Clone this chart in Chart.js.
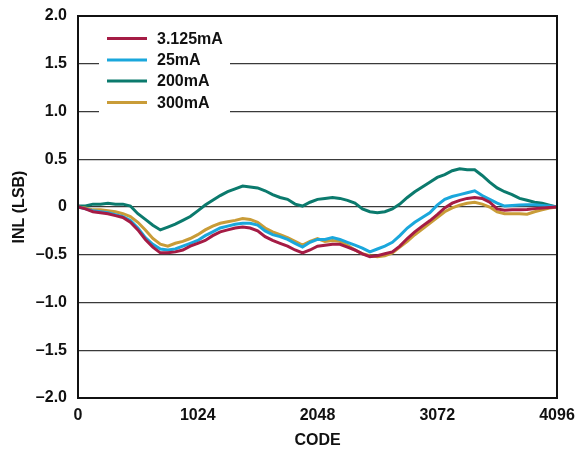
<!DOCTYPE html>
<html lang="en">
<head>
<meta charset="UTF-8">
<title>INL vs Code</title>
<script src="https://cdn.jsdelivr.net/npm/chart.js"></script>
<style>
  html, body { margin: 0; padding: 0; background: #fff; }
  #wrap { width: 576px; height: 455px; }
</style>
</head>
<body>
<div id="wrap"><canvas id="chart1" width="576" height="455"></canvas></div>
<script>
// codes sampled every 64
var codes = [0,64,128,192,256,320,384,448,512,576,640,704,768,832,896,960,1024,
  1088,1152,1216,1280,1344,1408,1472,1536,1600,1664,1728,1792,1856,1920,1984,2048,
  2112,2176,2240,2304,2368,2432,2496,2560,2624,2688,2752,2816,2880,2944,3008,3072,
  3136,3200,3264,3328,3392,3456,3520,3584,3648,3712,3776,3840,3904,3968,4032,4096];

var xTicks = [0, 1024, 2048, 3072, 4096];

var inl_3125 = [0,-0.02,-0.05,-0.06,-0.07,-0.09,-0.11,-0.16,-0.24,-0.34,-0.42,-0.48,-0.48,-0.47,-0.45,-0.41,-0.38,
  -0.35,-0.30,-0.26,-0.24,-0.22,-0.21,-0.22,-0.25,-0.31,-0.35,-0.38,-0.41,-0.45,-0.48,-0.45,-0.41,
  -0.40,-0.39,-0.39,-0.42,-0.45,-0.49,-0.52,-0.51,-0.49,-0.47,-0.41,-0.33,-0.26,-0.20,-0.145,-0.08,
  -0.01,0.04,0.07,0.09,0.10,0.09,0.05,-0.02,-0.035,-0.03,-0.03,-0.025,-0.017,-0.01,-0.005,0];

var inl_25 = [0,-0.02,-0.04,-0.05,-0.06,-0.08,-0.10,-0.14,-0.22,-0.32,-0.39,-0.44,-0.45,-0.44,-0.41,-0.38,-0.35,
  -0.30,-0.26,-0.22,-0.20,-0.18,-0.17,-0.17,-0.19,-0.25,-0.29,-0.31,-0.34,-0.38,-0.42,-0.37,-0.34,
  -0.34,-0.32,-0.34,-0.37,-0.40,-0.43,-0.47,-0.44,-0.41,-0.37,-0.30,-0.22,-0.16,-0.11,-0.06,0.02,
  0.08,0.11,0.13,0.15,0.17,0.12,0.08,0.04,0.01,0.015,0.02,0.024,0.024,0.017,0.01,0];

var inl_200 = [0.01,0.01,0.03,0.03,0.04,0.03,0.03,0.01,-0.07,-0.13,-0.19,-0.24,-0.21,-0.18,-0.14,-0.10,-0.04,
  0.02,0.07,0.12,0.16,0.19,0.22,0.21,0.20,0.17,0.13,0.10,0.08,0.03,0.01,0.05,0.08,
  0.09,0.10,0.09,0.07,0.04,-0.02,-0.05,-0.06,-0.05,-0.02,0.03,0.10,0.16,0.21,0.26,0.31,
  0.34,0.38,0.40,0.39,0.39,0.33,0.26,0.20,0.16,0.13,0.09,0.07,0.05,0.04,0.02,0];

var inl_300 = [0,-0.01,-0.03,-0.03,-0.04,-0.05,-0.07,-0.10,-0.16,-0.24,-0.33,-0.39,-0.41,-0.38,-0.36,-0.33,-0.29,
  -0.24,-0.20,-0.17,-0.155,-0.14,-0.12,-0.13,-0.16,-0.22,-0.26,-0.29,-0.32,-0.36,-0.40,-0.36,-0.33,
  -0.36,-0.35,-0.36,-0.40,-0.45,-0.49,-0.51,-0.52,-0.51,-0.48,-0.42,-0.36,-0.29,-0.23,-0.17,-0.11,
  -0.05,-0.01,0.02,0.04,0.05,0.03,0,-0.05,-0.07,-0.07,-0.07,-0.075,-0.05,-0.03,-0.01,0];

var seriesNames = ['3.125mA', '25mA', '200mA', '300mA'];
var seriesColors = ['#a51c45', '#1aa7dc', '#0b7a6d', '#c99c38'];
var seriesData = [inl_3125, inl_25, inl_200, inl_300];
var drawOrder = [0, 1, 3, 2];

var FONT = { family: "'Liberation Sans', Arial, sans-serif", size: 16, weight: 'bold' };

function toPoints(vals) {
  return codes.map(function (c, i) { return { x: c, y: vals[i] }; });
}

// white box legend + frame
var frameLegend = {
  id: 'frameLegend',
  afterDatasetsDraw: function (chart) {
    var ctx = chart.ctx, a = chart.chartArea;
    ctx.save();
    ctx.fillStyle = '#fff';
    ctx.fillRect(99, 28, 131, 86);
    var ys = [38.5, 60, 81, 102.5];
    ctx.font = 'bold 16px ' + FONT.family;
    ctx.textBaseline = 'middle';
    for (var i = 0; i < seriesNames.length; i++) {
      ctx.strokeStyle = seriesColors[i];
      ctx.lineWidth = 3;
      ctx.beginPath();
      ctx.moveTo(107, ys[i]);
      ctx.lineTo(147, ys[i]);
      ctx.stroke();
      ctx.fillStyle = '#111';
      ctx.fillText(seriesNames[i], 157, ys[i] + 1);
    }
    ctx.strokeStyle = '#111';
    ctx.lineWidth = 2;
    ctx.strokeRect(a.left, a.top, a.right - a.left, a.bottom - a.top);
    ctx.restore();
  }
};

var ctx = document.getElementById('chart1').getContext('2d');
var myChart = new Chart(ctx, {
  type: 'line',
  data: {
    datasets: seriesNames.map(function (n, i) {
      return {
        label: n,
        data: toPoints(seriesData[i]),
        borderColor: seriesColors[i],
        borderWidth: 3,
        pointRadius: 0,
        tension: 0,
        fill: false,
        order: drawOrder[i]
      };
    })
  },
  options: {
    responsive: false,
    animation: false,
    layout: { padding: { top: 16, right: 19, left: 0, bottom: 0 } },
    plugins: { legend: { display: false }, tooltip: { enabled: false } },
    scales: {
      x: {
        type: 'linear',
        min: 0, max: 4096,
        afterBuildTicks: function (s) {
          s.ticks = xTicks.map(function (v) { return { value: v }; });
        },
        grid: { display: false, drawTicks: false },
        border: { display: false },
        ticks: {
          color: '#111', font: FONT, padding: 8, maxRotation: 0,
          callback: function (v) { return String(v); }
        },
        title: { display: true, text: 'CODE', color: '#111', font: FONT, padding: { bottom: 5 } },
        afterFit: function (s) { s.height = 57; s.paddingLeft = 0; s.paddingRight = 0; }
      },
      y: {
        min: -2, max: 2,
        ticks: {
          stepSize: 0.5, color: '#111', font: FONT, padding: 11,
          callback: function (v) {
            if (v === 0) return '0';
            return (v < 0 ? '\u2013' : '') + Math.abs(v).toFixed(1);
          }
        },
        grid: { color: '#3a3a3a', lineWidth: 1.2, drawTicks: false },
        border: { display: false },
        title: { display: true, text: 'INL (LSB)', color: '#111', font: FONT, padding: { top: 10 } },
        afterFit: function (s) { s.width = 78; s.paddingTop = 0; s.paddingBottom = 0; }
      }
    }
  },
  plugins: [frameLegend]
});
</script>
</body>
</html>
